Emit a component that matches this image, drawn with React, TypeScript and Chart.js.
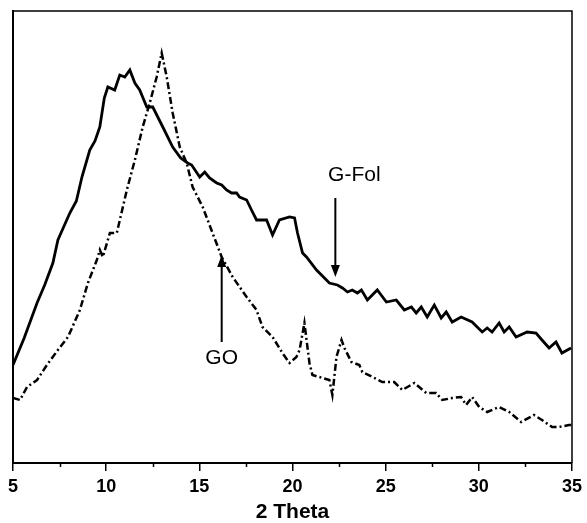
import React, { useEffect, useRef } from "react";
import { Chart, registerables } from "chart.js";

Chart.register(...registerables);

// 2θ (deg) and intensity (a.u.)
const gfolTheta = [5.0, 5.6, 6.29, 6.7, 7.14, 7.41, 8.05, 8.4, 8.7, 9.12, 9.4, 9.66, 9.9, 10.09, 10.46, 10.73, 11.0, 11.27, 11.54, 11.8, 12.18, 12.5, 13.04, 13.57, 14.0, 14.37, 14.59, 15.02, 15.29, 15.55, 15.93, 16.2, 16.46, 16.73, 17.0, 17.16, 17.54, 17.8, 18.07, 18.61, 18.93, 19.3, 19.84, 20.11, 20.27, 20.54, 20.75, 21.29, 21.98, 22.41, 22.68, 22.95, 23.21, 23.48, 23.7, 24.02, 24.55, 25.04, 25.57, 26.0, 26.38, 26.64, 26.91, 27.23, 27.61, 27.98, 28.25, 28.57, 29.05, 29.64, 30.18, 30.45, 30.71, 31.09, 31.36, 31.63, 32.0, 32.59, 33.07, 33.39, 33.77, 34.14, 34.46, 34.95, 35.0];
const gfolIntensity = [98, 125, 160, 178, 200, 223, 250, 262, 286, 313, 322, 336, 365, 376, 373, 388, 386, 393, 380, 373, 356, 356, 336, 316, 305, 300, 298, 286, 291, 285, 280, 278, 273, 270, 270, 266, 263, 253, 243, 243, 228, 243, 246, 245, 230, 210, 206, 193, 180, 178, 175, 171, 173, 170, 173, 163, 173, 161, 163, 153, 156, 150, 156, 146, 158, 145, 151, 141, 146, 141, 131, 135, 131, 140, 131, 136, 126, 131, 130, 123, 115, 121, 110, 115, 115];

const goTheta = [5.0, 5.38, 5.75, 6.29, 6.82, 7.41, 7.95, 8.59, 9.02, 9.5, 9.66, 9.82, 10.2, 10.57, 11.11, 11.54, 11.96, 12.34, 12.71, 12.98, 13.25, 13.57, 13.95, 14.32, 14.64, 15.18, 15.71, 16.2, 16.79, 17.54, 18.07, 18.39, 18.93, 19.46, 19.84, 20.21, 20.38, 20.64, 20.91, 21.07, 21.98, 22.14, 22.36, 22.63, 22.79, 23.16, 23.59, 23.75, 24.29, 24.82, 25.46, 25.89, 26.54, 27.18, 27.71, 28.04, 28.57, 29.05, 29.32, 29.64, 30.02, 30.45, 31.09, 31.63, 32.27, 32.96, 33.39, 33.93, 34.3, 34.84, 35.0];
const goIntensity = [65, 63, 76, 83, 98, 113, 126, 153, 180, 203, 213, 206, 230, 230, 273, 303, 336, 360, 386, 410, 386, 350, 316, 300, 276, 256, 230, 206, 186, 166, 153, 136, 126, 110, 100, 106, 113, 140, 100, 88, 83, 68, 106, 123, 115, 101, 98, 91, 86, 81, 81, 73, 80, 70, 70, 63, 65, 66, 58, 66, 56, 51, 56, 51, 41, 48, 43, 36, 36, 38, 38];

const xTicks = [5, 10, 15, 20, 25, 30, 35];
const xMinorTicks = [7.5, 12.5, 17.5, 22.5, 27.5, 32.5];

// annotations: label, arrow x, arrow tail y, arrow head y, label x, label y
const annLabels = ["G-Fol", "GO"];
const annArrowX = [22.3, 16.2];
const annTailY = [265, 121];
const annHeadY = [186, 208];
const annLabelX = [23.32, 16.2];
const annLabelY = [288, 105];

const FONT = "'Liberation Sans', Arial, Helvetica, sans-serif";

const framePlugin = {
  id: "frameAndNotes",
  afterDatasetsDraw(chart: any) {
    const { ctx, chartArea, scales } = chart;
    const xs = scales.x;
    const ys = scales.y;
    ctx.save();
    ctx.strokeStyle = "#000";
    ctx.lineWidth = 1.5;
    ctx.beginPath();
    ctx.moveTo(chartArea.left, chartArea.top);
    ctx.lineTo(chartArea.right, chartArea.top);
    ctx.lineTo(chartArea.right, chartArea.bottom);
    ctx.stroke();
    // minor ticks
    for (const v of xMinorTicks) {
      const px = Math.round(xs.getPixelForValue(v)) + 0.5;
      ctx.beginPath();
      ctx.moveTo(px, chartArea.bottom);
      ctx.lineTo(px, chartArea.bottom + 4);
      ctx.stroke();
    }
    // arrows and labels
    ctx.fillStyle = "#000";
    ctx.font = `21px ${FONT}`;
    ctx.textAlign = "center";
    ctx.textBaseline = "middle";
    for (let i = 0; i < annLabels.length; i++) {
      const ax = xs.getPixelForValue(annArrowX[i]);
      const ty = ys.getPixelForValue(annTailY[i]);
      const hy = ys.getPixelForValue(annHeadY[i]);
      const dir = hy > ty ? 1 : -1;
      const headLen = 12;
      ctx.lineWidth = 2;
      ctx.beginPath();
      ctx.moveTo(ax, ty);
      ctx.lineTo(ax, hy - dir * headLen);
      ctx.stroke();
      ctx.beginPath();
      ctx.moveTo(ax, hy);
      ctx.lineTo(ax - 4.5, hy - dir * headLen);
      ctx.lineTo(ax + 4.5, hy - dir * headLen);
      ctx.closePath();
      ctx.fill();
      ctx.fillText(annLabels[i], xs.getPixelForValue(annLabelX[i]), ys.getPixelForValue(annLabelY[i]));
    }
    ctx.restore();
  },
};

export default function App() {
  const ref = useRef<HTMLCanvasElement | null>(null);
  useEffect(() => {
    if (!ref.current) return;
    const chart = new Chart(ref.current, {
      type: "line",
      data: {
        datasets: [
          {
            label: "G-Fol",
            data: gfolTheta.map((x, i) => ({ x, y: gfolIntensity[i] })),
            borderColor: "#000",
            borderWidth: 2.8,
            pointRadius: 0,
            tension: 0,
          },
          {
            label: "GO",
            data: goTheta.map((x, i) => ({ x, y: goIntensity[i] })),
            borderColor: "#000",
            borderWidth: 2.5,
            borderDash: [7, 3, 2, 3],
            pointRadius: 0,
            tension: 0,
          },
        ],
      },
      options: {
        animation: false,
        responsive: false,
        layout: { padding: { left: 13, right: 14, top: 11, bottom: 0 } },
        plugins: { legend: { display: false }, tooltip: { enabled: false } },
        scales: {
          x: {
            type: "linear",
            min: 5,
            max: 35,
            afterBuildTicks: (s: any) => {
              s.ticks = xTicks.map((v) => ({ value: v }));
            },
            afterFit: (s: any) => {
              s.height = 60;
            },
            grid: {
              display: true,
              drawOnChartArea: false,
              drawTicks: true,
              tickLength: 8,
              color: "#000",
              lineWidth: 1.5,
            },
            border: { display: true, color: "#000", width: 2 },
            ticks: {
              color: "#000",
              padding: 5,
              maxRotation: 0,
              font: { family: FONT, size: 18, weight: "bold" },
            },
            title: {
              display: true,
              text: "2 Theta",
              color: "#000",
              padding: 0,
              font: { family: FONT, size: 21, weight: "bold", lineHeight: 1 },
            },
          },
          y: {
            type: "linear",
            min: 0,
            max: 452,
            afterFit: (s: any) => {
              s.width = 0;
            },
            grid: { display: false },
            border: { display: true, color: "#000", width: 2 },
            ticks: { display: false },
          },
        },
      } as any,
      plugins: [framePlugin],
    });
    return () => chart.destroy();
  }, []);
  return (
    <div style={{ position: "absolute", left: 0, top: 0, width: 587, height: 523, background: "#fff" }}>
      <canvas ref={ref} width={587} height={523} />
    </div>
  );
}
